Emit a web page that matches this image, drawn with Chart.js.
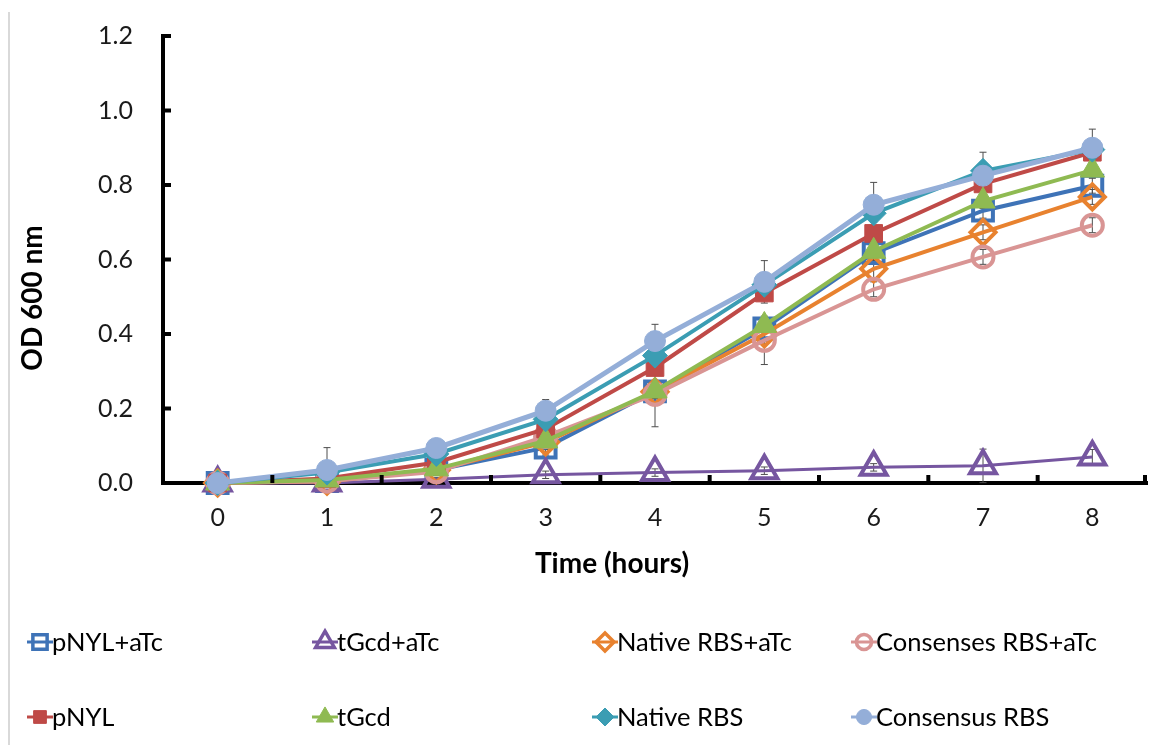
<!DOCTYPE html>
<html>
<head>
<meta charset="utf-8">
<script src="https://cdn.jsdelivr.net/npm/chart.js@4/dist/chart.umd.min.js"></script>
<style>
  html, body { margin: 0; padding: 0; background: #ffffff; }
  #wrap { width: 1151px; height: 745px; position: relative; }
</style>
</head>
<body>
<div id="wrap"><canvas id="c" width="1151" height="745"></canvas></div>
<script>
// ---- data ----
const hours = ['0', '1', '2', '3', '4', '5', '6', '7', '8'];
const yTickValues = [0, 0.2, 0.4, 0.6, 0.8, 1.0, 1.2];

const seriesNames = ['pNYL+aTc', 'tGcd+aTc', 'Native RBS+aTc', 'Consenses RBS+aTc',
                     'pNYL', 'tGcd', 'Native RBS', 'Consensus RBS'];

const pNYL_aTc      = [0, 0.005, 0.035, 0.095, 0.246, 0.415, 0.617, 0.731, 0.798];
const tGcd_aTc      = [0, 0.000, 0.010, 0.022, 0.028, 0.033, 0.042, 0.046, 0.070];
const nativeRBS_aTc = [0, 0.005, 0.035, 0.110, 0.245, 0.400, 0.575, 0.673, 0.768];
const consRBS_aTc   = [0, 0.005, 0.030, 0.125, 0.238, 0.383, 0.520, 0.607, 0.692];
const pNYL          = [0, 0.012, 0.055, 0.145, 0.310, 0.510, 0.670, 0.803, 0.888];
const tGcd          = [0, 0.008, 0.038, 0.113, 0.247, 0.423, 0.622, 0.757, 0.840];
const nativeRBS     = [0, 0.028, 0.078, 0.171, 0.342, 0.532, 0.724, 0.838, 0.895];
const consensusRBS  = [0, 0.035, 0.094, 0.194, 0.381, 0.540, 0.747, 0.825, 0.900];

// symmetric error (standard deviation)
const err_pNYL_aTc      = [0, 0.005, 0.010, 0.020, 0.095, 0.030, 0.020, 0.020, 0.020];
const err_tGcd_aTc      = [0, 0.003, 0.005, 0.010, 0.010, 0.010, 0.010, 0.045, 0.020];
const err_nativeRBS_aTc = [0, 0.005, 0.010, 0.020, 0.030, 0.020, 0.030, 0.020, 0.020];
const err_consRBS_aTc   = [0, 0.005, 0.010, 0.020, 0.030, 0.065, 0.020, 0.020, 0.020];
const err_pNYL          = [0, 0.005, 0.010, 0.020, 0.020, 0.020, 0.030, 0.020, 0.020];
const err_tGcd          = [0, 0.005, 0.010, 0.020, 0.020, 0.020, 0.030, 0.020, 0.020];
const err_nativeRBS     = [0, 0.010, 0.010, 0.020, 0.020, 0.020, 0.020, 0.050, 0.020];
const err_consensusRBS  = [0, 0.060, 0.010, 0.030, 0.045, 0.057, 0.060, 0.020, 0.050];

const seriesValues = [pNYL_aTc, tGcd_aTc, nativeRBS_aTc, consRBS_aTc, pNYL, tGcd, nativeRBS, consensusRBS];
const seriesErrors = [err_pNYL_aTc, err_tGcd_aTc, err_nativeRBS_aTc, err_consRBS_aTc,
                      err_pNYL, err_tGcd, err_nativeRBS, err_consensusRBS];

// ---- styles ----
const FONT = 'Lato, "Open Sans", "Liberation Sans", sans-serif';
const styles = [
  { color: '#3e73b7', shape: 'rect',     r: 14,   open: true,  lw: 4 },
  { color: '#7656a0', shape: 'triangle', r: 15,   open: true,  lw: 3 },
  { color: '#e8822f', shape: 'rectRot',  r: 12.5, open: true,  lw: 4 },
  { color: '#d99594', shape: 'circle',   r: 10.5, open: true,  lw: 4 },
  { color: '#bf4a47', shape: 'rect',     r: 12.5, open: false, lw: 4 },
  { color: '#8fba52', shape: 'triangle', r: 14,   open: false, lw: 4 },
  { color: '#3b9db3', shape: 'rectRot',  r: 12.5, open: false, lw: 4 },
  { color: '#94aed8', shape: 'circle',   r: 10.5, open: false, lw: 5 }
];

const datasets = seriesNames.map((name, i) => {
  const s = styles[i];
  return {
    label: name,
    data: seriesValues[i],
    borderColor: s.color,
    backgroundColor: s.color,
    borderWidth: s.lw,
    pointStyle: s.shape,
    pointRadius: s.r,
    pointHoverRadius: s.r,
    pointBorderColor: s.color,
    pointBackgroundColor: s.open ? 'rgba(255,255,255,0)' : s.color,
    pointBorderWidth: s.open ? 4 : 1,
    tension: 0,
    fill: false,
    clip: false,
    order: seriesNames.length - i
  };
});

// ---- plugins ----
const decorations = {
  id: 'decorations',
  beforeDatasetsDraw(chart) {
    const ctx = chart.ctx;
    const x = chart.scales.x, y = chart.scales.y;
    ctx.save();
    ctx.strokeStyle = '#4d4d4d';
    ctx.lineWidth = 1;
    seriesValues.forEach((vals, si) => {
      vals.forEach((v, i) => {
        const e = seriesErrors[si][i];
        if (!e) return;
        const px = x.getPixelForValue(i);
        const top = y.getPixelForValue(v + e);
        const bot = y.getPixelForValue(Math.max(0, v - e));
        ctx.beginPath();
        ctx.moveTo(px, top); ctx.lineTo(px, bot);
        ctx.moveTo(px - 3.5, top); ctx.lineTo(px + 3.5, top);
        ctx.moveTo(px - 3.5, bot); ctx.lineTo(px + 3.5, bot);
        ctx.stroke();
      });
    });
    ctx.restore();
  },
  afterDraw(chart) {
    const ctx = chart.ctx;
    const x = chart.scales.x, y = chart.scales.y;
    const area = chart.chartArea;
    ctx.save();
    // inward tick marks
    ctx.strokeStyle = '#000';
    ctx.lineWidth = 4;
    yTickValues.forEach(v => {
      const py = y.getPixelForValue(v);
      ctx.beginPath();
      ctx.moveTo(area.left, py); ctx.lineTo(area.left + 8, py);
      ctx.stroke();
    });
    for (let i = 0; i < hours.length; i++) {
      const px = i < hours.length - 1
        ? (x.getPixelForValue(i) + x.getPixelForValue(i + 1)) / 2
        : area.right - 2;
      ctx.beginPath();
      ctx.moveTo(px, area.bottom); ctx.lineTo(px, area.bottom - 8);
      ctx.stroke();
    }
    // axis titles
    ctx.fillStyle = '#000';
    ctx.font = 'bold 28px ' + FONT;
    ctx.textAlign = 'center';
    ctx.textBaseline = 'middle';
    ctx.fillText('Time (hours)', 612, 564);
    ctx.save();
    ctx.translate(33, 298);
    ctx.rotate(-Math.PI / 2);
    ctx.fillText('OD 600 nm', 0, 0);
    ctx.restore();
    // left frame line
    ctx.strokeStyle = '#cccccc';
    ctx.lineWidth = 1.5;
    ctx.beginPath();
    ctx.moveTo(9, 12); ctx.lineTo(9, 745);
    ctx.stroke();
    // legend
    const colX = [40, 325, 605, 864];
    const rowY = [642, 717];
    ctx.font = '25.5px ' + FONT;
    ctx.textAlign = 'left';
    ctx.textBaseline = 'middle';
    seriesNames.forEach((name, i) => {
      const s = styles[i];
      const cx = colX[i % 4], cy = rowY[Math.floor(i / 4)];
      ctx.strokeStyle = s.color;
      ctx.lineWidth = 3;
      ctx.beginPath();
      ctx.moveTo(cx - 13, cy); ctx.lineTo(cx + 13, cy);
      ctx.stroke();
      ctx.fillStyle = s.open ? 'rgba(255,255,255,0)' : s.color;
      ctx.strokeStyle = s.color;
      ctx.lineWidth = s.open ? 3.5 : 1;
      Chart.helpers.drawPoint(ctx, { pointStyle: s.shape, radius: s.r * 0.72, rotation: 0, borderWidth: ctx.lineWidth }, cx, cy);
      ctx.fillStyle = '#000';
      ctx.fillText(name, cx + 12, cy + 1);
    });
    ctx.restore();
  }
};

new Chart(document.getElementById('c'), {
  type: 'line',
  data: { labels: hours, datasets: datasets },
  options: {
    responsive: false,
    animation: false,
    events: [],
    layout: { autoPadding: false, padding: { left: 10, right: 4, top: 36, bottom: 0 } },
    plugins: { legend: { display: false }, tooltip: { enabled: false } },
    scales: {
      x: {
        type: 'category',
        offset: true,
        grid: { display: false, drawTicks: false, offset: true },
        border: { display: true, color: '#000', width: 4 },
        ticks: { color: '#1a1a1a', font: { family: FONT, size: 25 }, padding: 20 },
        afterFit(s) { s.height = 262; s.paddingLeft = 0; s.paddingRight = 0; }
      },
      y: {
        min: 0, max: 1.2,
        afterBuildTicks(s) { s.ticks = yTickValues.map(v => ({ value: v })); },
        grid: { display: false, drawTicks: false },
        border: { display: true, color: '#000', width: 4 },
        ticks: {
          color: '#1a1a1a', font: { family: FONT, size: 25 }, padding: 30,
          callback: v => Number(v).toFixed(1)
        },
        afterFit(s) { s.width = 153; s.paddingTop = 0; s.paddingBottom = 0; }
      }
    }
  },
  plugins: [decorations]
});
</script>
</body>
</html>
